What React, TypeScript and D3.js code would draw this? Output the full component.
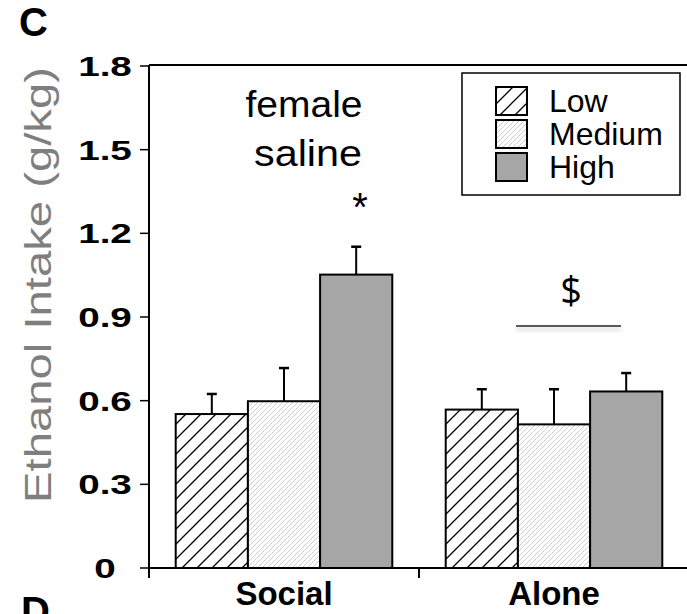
import React, { useEffect, useRef } from 'react';
import * as d3 from 'd3';

// chart values
const groups = ['Social', 'Alone'];
const levels = ['Low', 'Medium', 'High'];
const socialMeans = [0.552, 0.598, 1.052];
const socialErrors = [0.072, 0.119, 0.1];
const aloneMeans = [0.568, 0.515, 0.633];
const aloneErrors = [0.073, 0.126, 0.066];
const yTicks = [0, 0.3, 0.6, 0.9, 1.2, 1.5, 1.8];
const yTickLabels = ['0', '0.3', '0.6', '0.9', '1.2', '1.5', '1.8'];

const W = 687;
const H = 614;
const FONT = '"Liberation Sans", Arial, sans-serif';

const App = () => {
  const svgRef = useRef(null);

  useEffect(() => {
    const svg = d3.select(svgRef.current);
    svg.selectAll('*').remove();

    const margin = { top: 66, left: 149, bottom: 568 };

    const y = d3.scaleLinear().domain([0, 1.8]).range([margin.bottom, margin.top]);
    const x0 = d3.scaleBand().domain(groups).range([margin.left, margin.left + 540]).padding(0);
    const x1 = d3.scaleBand().domain(levels).range([0, x0.bandwidth()]).paddingInner(0).paddingOuter(0.37);

    const rows = [];
    groups.forEach((g, gi) => {
      const means = gi === 0 ? socialMeans : aloneMeans;
      const errs = gi === 0 ? socialErrors : aloneErrors;
      levels.forEach((l, li) => rows.push({ group: g, level: l, mean: means[li], err: errs[li] }));
    });

    // patterns + shadow filter
    const defs = svg.append('defs');
    const pLow = defs.append('pattern')
      .attr('id', 'hatchLow')
      .attr('patternUnits', 'userSpaceOnUse')
      .attr('width', 15).attr('height', 15);
    pLow.append('rect').attr('width', 15).attr('height', 15).attr('fill', '#fff');
    pLow.append('path')
      .attr('d', 'M0,15 L15,0 M-3,3 L3,-3 M12,18 L18,12')
      .attr('stroke', '#000').attr('stroke-width', 1.3);

    const pMed = defs.append('pattern')
      .attr('id', 'hatchMed')
      .attr('patternUnits', 'userSpaceOnUse')
      .attr('width', 5).attr('height', 5);
    pMed.append('rect').attr('width', 5).attr('height', 5).attr('fill', '#fff');
    pMed.append('path')
      .attr('d', 'M0,5 L5,0 M-1,1 L1,-1 M4,6 L6,4')
      .attr('stroke', '#c8c8c8').attr('stroke-width', 0.9);

    const shadow = defs.append('filter').attr('id', 'lineShadow')
      .attr('filterUnits', 'userSpaceOnUse')
      .attr('x', 500).attr('y', 310).attr('width', 140).attr('height', 40);
    shadow.append('feDropShadow')
      .attr('dx', 0).attr('dy', 3).attr('stdDeviation', 2)
      .attr('flood-color', '#999').attr('flood-opacity', 0.7);

    const fillFor = level => level === 'Low' ? 'url(#hatchLow)' : level === 'Medium' ? 'url(#hatchMed)' : '#a6a6a6';

    // frame lines: y axis, top line, x axis
    svg.append('line')
      .attr('x1', margin.left).attr('x2', margin.left)
      .attr('y1', margin.top - 1).attr('y2', margin.bottom + 10)
      .attr('stroke', '#000').attr('stroke-width', 2);
    svg.append('line')
      .attr('x1', margin.left).attr('x2', W)
      .attr('y1', margin.top - 1).attr('y2', margin.top - 1)
      .attr('stroke', '#000').attr('stroke-width', 2);

    // y ticks and labels
    yTicks.forEach((t, i) => {
      svg.append('line')
        .attr('x1', margin.left - 9).attr('x2', margin.left)
        .attr('y1', y(t)).attr('y2', y(t))
        .attr('stroke', '#000').attr('stroke-width', 1.5);
      svg.append('text')
        .attr('transform', `translate(105,${y(t) + 10}) scale(1.38,1)`)
        .attr('text-anchor', 'middle')
        .style('font-family', FONT)
        .style('font-size', '28px')
        .style('font-weight', 'bold')
        .style('fill', '#000')
        .text(yTickLabels[i]);
    });

    // bars
    svg.selectAll('.bar')
      .data(rows)
      .enter().append('rect')
      .attr('class', 'bar')
      .attr('x', d => x0(d.group) + x1(d.level))
      .attr('y', d => y(d.mean))
      .attr('width', x1.bandwidth())
      .attr('height', d => y(0) - y(d.mean))
      .attr('fill', d => fillFor(d.level))
      .attr('stroke', '#000')
      .attr('stroke-width', 2);

    // error bars (upper only)
    const eb = svg.selectAll('.err').data(rows).enter().append('g').attr('class', 'err');
    eb.append('line')
      .attr('x1', d => x0(d.group) + x1(d.level) + x1.bandwidth() / 2)
      .attr('x2', d => x0(d.group) + x1(d.level) + x1.bandwidth() / 2)
      .attr('y1', d => y(d.mean))
      .attr('y2', d => y(d.mean + d.err))
      .attr('stroke', '#000').attr('stroke-width', 2);
    eb.append('line')
      .attr('x1', d => x0(d.group) + x1(d.level) + x1.bandwidth() / 2 - 5)
      .attr('x2', d => x0(d.group) + x1(d.level) + x1.bandwidth() / 2 + 5)
      .attr('y1', d => y(d.mean + d.err))
      .attr('y2', d => y(d.mean + d.err))
      .attr('stroke', '#000').attr('stroke-width', 2.5);

    // x axis
    svg.append('line')
      .attr('x1', margin.left).attr('x2', W)
      .attr('y1', y(0)).attr('y2', y(0))
      .attr('stroke', '#000').attr('stroke-width', 2);
    groups.forEach(g => {
      svg.append('line')
        .attr('x1', x0(g)).attr('x2', x0(g))
        .attr('y1', y(0)).attr('y2', y(0) + 10)
        .attr('stroke', '#000').attr('stroke-width', 2);
      svg.append('text')
        .attr('x', x0(g) + x0.bandwidth() / 2)
        .attr('y', 605)
        .attr('text-anchor', 'middle')
        .style('font-family', FONT)
        .style('font-size', '33px')
        .style('font-weight', 'bold')
        .text(g);
    });

    // y axis label
    svg.append('text')
      .attr('transform', 'translate(51,285) rotate(-90)')
      .attr('text-anchor', 'middle')
      .attr('textLength', 436)
      .attr('lengthAdjust', 'spacingAndGlyphs')
      .style('font-family', FONT)
      .style('font-size', '37px')
      .style('fill', '#7f7f7f')
      .text('Ethanol Intake (g/kg)');

    // panel letters
    svg.append('text').attr('x', 19).attr('y', 36)
      .style('font-family', FONT).style('font-size', '40px').style('font-weight', 'bold')
      .text('C');
    svg.append('text').attr('x', 21).attr('y', 625)
      .style('font-family', FONT).style('font-size', '40px').style('font-weight', 'bold')
      .text('D');

    // annotation
    svg.append('text').attr('x', 304).attr('y', 117)
      .attr('text-anchor', 'middle')
      .attr('textLength', 117).attr('lengthAdjust', 'spacingAndGlyphs')
      .style('font-family', FONT).style('font-size', '36px')
      .text('female');
    svg.append('text').attr('x', 308).attr('y', 166)
      .attr('text-anchor', 'middle')
      .attr('textLength', 108).attr('lengthAdjust', 'spacingAndGlyphs')
      .style('font-family', FONT).style('font-size', '36px')
      .text('saline');
    svg.append('text').attr('x', 360).attr('y', 221)
      .attr('text-anchor', 'middle')
      .style('font-family', FONT).style('font-size', '40px')
      .text('*');

    svg.append('text').attr('x', 571).attr('y', 304)
      .attr('text-anchor', 'middle')
      .style('font-family', '"Open Sans", sans-serif').style('font-size', '38px')
      .text('$');
    svg.append('line')
      .attr('x1', 516).attr('x2', 621)
      .attr('y1', 326).attr('y2', 326)
      .attr('stroke', '#222').attr('stroke-width', 1.5)
      .attr('filter', 'url(#lineShadow)');

    // legend
    const legend = svg.append('g');
    legend.append('rect')
      .attr('x', 462).attr('y', 73).attr('width', 218).attr('height', 122)
      .attr('fill', '#fff').attr('stroke', '#000').attr('stroke-width', 1.5);
    levels.forEach((l, i) => {
      legend.append('rect')
        .attr('x', 496).attr('y', 87 + i * 33)
        .attr('width', 31).attr('height', 28)
        .attr('fill', fillFor(l))
        .attr('stroke', '#000').attr('stroke-width', 2);
      legend.append('text')
        .attr('x', 549).attr('y', 112 + i * 33)
        .style('font-family', FONT).style('font-size', '32px')
        .text(l);
    });
  }, []);

  return (
    <svg
      ref={svgRef}
      width={W}
      height={H}
      style={{ position: 'absolute', left: 0, top: 0, display: 'block', background: '#fff' }}
    ></svg>
  );
};

export default App;
